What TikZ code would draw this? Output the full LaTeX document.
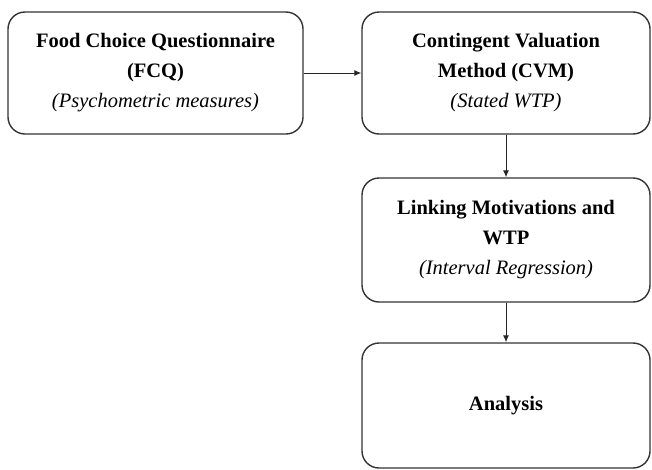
\documentclass[tikz,border=0pt]{standalone}
\usepackage{fontspec}
\setmainfont{Liberation Serif}
\usetikzlibrary{arrows.meta,positioning}

\begin{document}
\begin{tikzpicture}[x=1pt,y=-1pt,
    stage/.style={draw=black!80,line width=1.4pt,rounded corners=17pt,
      minimum width=288pt,minimum height=122pt,align=center,
      font=\fontsize{20.5}{30}\selectfont},
    link/.style={-{Latex[length=7pt,width=6pt]},line width=1pt,black!85}]
      \useasboundingbox (0,0) rectangle (652,469);

      \node[stage,minimum width=295pt] (fcq) at (155.5,73)
        {\textbf{Food Choice Questionnaire}\\\textbf{(FCQ)}\\\textit{(Psychometric measures)}};
      \node[stage] (cvm) at (506,73)
        {\textbf{Contingent Valuation}\\\textbf{Method (CVM)}\\\textit{(Stated WTP)}};
      \node[stage,minimum height=124pt] (wtp) at (506,240)
        {\textbf{Linking Motivations and}\\\textbf{WTP}\\\textit{(Interval Regression)}};
      \node[stage,minimum height=125pt] (analysis) at (506,405.5)
        {\textbf{Analysis}};

      \path[link] (fcq) edge (cvm);
      \path[link] (cvm) edge (wtp);
      \path[link] (wtp) edge (analysis);

\end{tikzpicture}
\end{document}
